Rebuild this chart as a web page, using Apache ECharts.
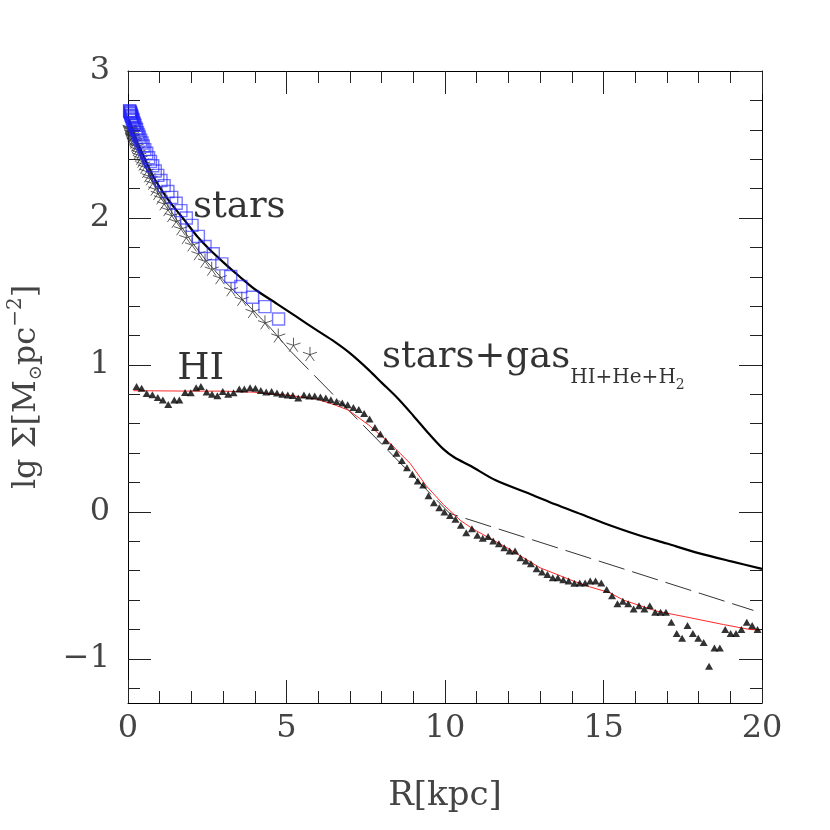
<!DOCTYPE html>
<html>
<head>
<meta charset="utf-8">
<script src="https://cdn.jsdelivr.net/npm/echarts@6/dist/echarts.min.js"></script>
<style>
  html, body { margin: 0; padding: 0; background: #fff; }
  #main { width: 830px; height: 830px; }
</style>
</head>
<body>
<div id="main"></div>
<script>
// stellar surface density, asterisks
var starsX = [0.05, 0.06, 0.07, 0.08, 0.09, 0.10, 0.11, 0.12, 0.13, 0.15, 0.16, 0.18, 0.20, 0.22, 0.25, 0.27, 0.30, 0.33, 0.36, 0.40, 0.44, 0.48, 0.53, 0.59, 0.65, 0.71, 0.78, 0.86, 0.94, 1.04, 1.14, 1.26, 1.38, 1.52, 1.67, 1.84, 2.02, 2.22, 2.43, 2.64, 2.90, 3.25, 3.59, 3.93, 4.32, 4.74, 5.22, 5.74];
var starsY = [2.62, 2.615, 2.61, 2.605, 2.60, 2.59, 2.585, 2.58, 2.57, 2.56, 2.555, 2.54, 2.53, 2.52, 2.50, 2.49, 2.47, 2.45, 2.43, 2.41, 2.39, 2.37, 2.35, 2.32, 2.29, 2.27, 2.24, 2.20, 2.17, 2.14, 2.10, 2.06, 2.02, 1.98, 1.93, 1.87, 1.82, 1.76, 1.71, 1.655, 1.597, 1.515, 1.45, 1.367, 1.29, 1.20, 1.138, 1.075];

// second stellar profile, blue squares
var boxX = [0.05, 0.06, 0.07, 0.08, 0.09, 0.10, 0.11, 0.12, 0.13, 0.15, 0.16, 0.18, 0.20, 0.22, 0.25, 0.27, 0.30, 0.33, 0.36, 0.40, 0.44, 0.48, 0.53, 0.59, 0.65, 0.71, 0.78, 0.86, 0.94, 1.04, 1.14, 1.26, 1.38, 1.52, 1.67, 1.84, 2.02, 2.22, 2.43, 2.69, 2.96, 3.24, 3.56, 3.93, 4.32, 4.75];
var boxY = [2.73, 2.725, 2.72, 2.715, 2.71, 2.70, 2.695, 2.69, 2.68, 2.67, 2.665, 2.65, 2.64, 2.63, 2.61, 2.60, 2.58, 2.565, 2.55, 2.53, 2.51, 2.49, 2.465, 2.44, 2.41, 2.385, 2.355, 2.32, 2.29, 2.255, 2.22, 2.18, 2.14, 2.10, 2.05, 2.00, 1.95, 1.875, 1.806, 1.757, 1.688, 1.602, 1.534, 1.461, 1.397, 1.313];

// HI observed, triangles
var hiX = [0.27, 0.43, 0.59, 0.77, 0.94, 1.10, 1.27, 1.46, 1.62, 1.80, 1.98, 2.15, 2.30, 2.48, 2.65, 2.82, 2.99, 3.16, 3.33, 3.51, 3.67, 3.85, 4.02, 4.19, 4.36, 4.53, 4.70, 4.87, 5.04, 5.20, 5.37, 5.55, 5.72, 5.89, 6.07, 6.24, 6.40, 6.58, 6.76, 6.93, 7.11, 7.28, 7.45, 7.62, 7.79, 7.96, 8.13, 8.30, 8.47, 8.64, 8.80, 8.97, 9.14, 9.31, 9.48, 9.65, 9.82, 9.98, 10.16, 10.33, 10.50, 10.67, 10.85, 11.02, 11.19, 11.36, 11.52, 11.70, 11.87, 12.04, 12.21, 12.38, 12.55, 12.71, 12.89, 13.06, 13.23, 13.40, 13.56, 13.73, 13.90, 14.08, 14.25, 14.42, 14.58, 14.75, 14.93, 15.10, 15.27, 15.44, 15.61, 15.78, 15.95, 16.12, 16.29, 16.46, 16.63, 16.80, 16.97, 17.14, 17.31, 17.48, 17.65, 17.82, 17.99, 18.16, 18.33, 18.50, 18.67, 18.84, 19.01, 19.18, 19.35, 19.52, 19.69, 19.86];
var hiY = [0.854, 0.841, 0.806, 0.798, 0.779, 0.761, 0.731, 0.761, 0.761, 0.813, 0.811, 0.845, 0.854, 0.816, 0.800, 0.791, 0.820, 0.800, 0.811, 0.836, 0.836, 0.845, 0.841, 0.827, 0.816, 0.820, 0.809, 0.800, 0.796, 0.793, 0.775, 0.796, 0.789, 0.789, 0.782, 0.775, 0.763, 0.752, 0.741, 0.729, 0.711, 0.697, 0.670, 0.632, 0.575, 0.530, 0.484, 0.445, 0.400, 0.350, 0.300, 0.257, 0.211, 0.184, 0.110, 0.062, 0.029, 0.000, -0.024, -0.050, -0.091, -0.141, -0.114, -0.159, -0.179, -0.168, -0.198, -0.216, -0.243, -0.266, -0.266, -0.311, -0.334, -0.352, -0.386, -0.409, -0.425, -0.448, -0.448, -0.461, -0.470, -0.486, -0.484, -0.484, -0.470, -0.470, -0.484, -0.527, -0.570, -0.625, -0.607, -0.625, -0.661, -0.639, -0.661, -0.639, -0.682, -0.682, -0.682, -0.750, -0.827, -0.859, -0.772, -0.827, -0.859, -0.888, -1.050, -0.925, -0.925, -0.800, -0.827, -0.827, -0.800, -0.750, -0.772, -0.800];

// HI model, red line
var hiFitX = [0.17, 2.0, 3.0, 3.95, 5.0, 5.95, 6.5, 6.95, 7.6, 8.3, 8.9, 9.4, 9.95, 10.2, 10.5, 10.9, 11.95, 13.0, 14.05, 14.57, 15.2, 15.63, 16.68, 17.73, 18.78, 19.62, 19.95];
var hiFitY = [0.825, 0.822, 0.822, 0.815, 0.795, 0.768, 0.73, 0.693, 0.59, 0.46, 0.33, 0.18, 0.05, 0.0, -0.06, -0.118, -0.243, -0.38, -0.47, -0.51, -0.55, -0.60, -0.675, -0.72, -0.766, -0.80, -0.804];

// stellar model: inner solid part, outer dashed part
var starFitX = [0, 0.1, 0.2, 0.35, 0.5, 0.75, 1.0, 1.5, 2.0, 2.5, 3.0, 3.5, 4.0, 4.5, 5.1];
var starFitY = [2.63, 2.58, 2.53, 2.45, 2.38, 2.27, 2.17, 2.00, 1.84, 1.70, 1.58, 1.47, 1.36, 1.25, 1.10];
var diskX = [5.1, 10.15, 19.73];
var diskY = [1.10, -0.01, -0.67];

// stars + gas total, thick line
var totalX = [0.03, 0.1, 0.2, 0.3, 0.45, 0.6, 0.8, 1.0, 1.25, 1.5, 1.8, 2.2, 2.6, 3.0, 3.5, 4.0, 4.7, 5.3, 6.0, 6.5, 7.0, 7.6, 8.0, 8.5, 9.0, 9.5, 9.95, 10.3, 10.8, 11.6, 12.7, 13.5, 14.3, 15.0, 16.0, 17.0, 18.0, 19.0, 20.0];
var totalY = [2.67, 2.63, 2.57, 2.51, 2.44, 2.37, 2.28, 2.21, 2.13, 2.06, 1.98, 1.87, 1.78, 1.70, 1.605, 1.515, 1.416, 1.33, 1.23, 1.16, 1.08, 0.965, 0.88, 0.775, 0.655, 0.53, 0.427, 0.37, 0.314, 0.215, 0.121, 0.05, -0.016, -0.075, -0.15, -0.215, -0.28, -0.335, -0.387];

var yMajor = [-1, 0, 1, 2, 3];
var yMinor = [-1.2, -0.8, -0.6, -0.4, -0.2, 0.2, 0.4, 0.6, 0.8, 1.2, 1.4, 1.6, 1.8, 2.2, 2.4, 2.6, 2.8];

function pairs(xs, ys) {
  return xs.map(function (x, i) { return [x, ys[i]]; });
}

var FONT = "DejaVu Serif";
var asterisk = "path://M0,0L0,-1M0,0L0.95,-0.31M0,0L0.59,0.81M0,0L-0.59,0.81M0,0L-0.95,-0.31";

var chart = echarts.init(document.getElementById("main"));

function yAx(pos, ticks, len, labels, line) {
  return {
    type: "value", position: pos, min: -1.3, max: 3,
    axisLine: { show: line, onZero: false, lineStyle: { color: "#000", width: 1 } },
    axisTick: { inside: true, length: len, customValues: ticks, lineStyle: { color: "#222" } },
    axisLabel: labels ? {
      show: true, customValues: labels, fontFamily: FONT, fontSize: 32, color: "#444", margin: 18,
      formatter: function (v) { return v < 0 ? "\u2212" + Math.abs(v) : String(v); }
    } : { show: false },
    splitLine: { show: false }
  };
}

function xAx(pos, labels) {
  return {
    type: "value", min: 0, max: 20, interval: 5, position: pos,
    axisLine: { onZero: false, lineStyle: { color: "#000", width: 1 } },
    axisTick: { inside: true, length: 23, lineStyle: { color: "#222" } },
    minorTick: { show: true, splitNumber: 5, length: 12, lineStyle: { color: "#222" } },
    axisLabel: labels ? { fontFamily: FONT, fontSize: 32, color: "#444", margin: 10 } : { show: false },
    splitLine: { show: false }
  };
}

var option = {
  animation: false,
  grid: { left: 128, top: 71, width: 634, height: 632, containLabel: false, outerBoundsMode: "none" },
  xAxis: [
    Object.assign(xAx("bottom", true), {
      name: "R[kpc]", nameLocation: "middle", nameGap: 76,
      nameTextStyle: { fontFamily: FONT, fontSize: 34, color: "#444" }
    }),
    xAx("top", false)
  ],
  yAxis: [
    Object.assign(yAx("left", yMajor, 23, yMajor, true), {
      name: "{n|lg \u03a3[M}{o|\u2299}{n|pc}{e|\u22122}{n|]}",
      nameLocation: "middle", nameGap: 80, nameRotate: 90,
      nameTextStyle: {
        rich: {
          n: { fontFamily: FONT, fontSize: 32, color: "#444" },
          o: { fontFamily: FONT, fontSize: 18, color: "#444", padding: [18, 0, 0, 0] },
          e: { fontFamily: FONT, fontSize: 20, color: "#444", padding: [0, 0, 22, 0] }
        }
      }
    }),
    yAx("right", yMajor, 23, null, true),
    yAx("left", yMinor, 12, null, false),
    yAx("right", yMinor, 12, null, false)
  ],
  series: [
    {
      type: "line", data: pairs(starFitX, starFitY), showSymbol: false,
      lineStyle: { color: "#444", width: 1 }, z: 2
    },
    {
      type: "line", data: pairs(diskX, diskY), showSymbol: false,
      lineStyle: { color: "#333", width: 1, type: [27, 8] }, z: 2
    },
    {
      type: "line", data: pairs(hiFitX, hiFitY), showSymbol: false,
      lineStyle: { color: "#ff2a2a", width: 1 }, z: 2
    },
    {
      type: "line", data: pairs(totalX, totalY), showSymbol: false, smooth: 0.3,
      lineStyle: { color: "#000", width: 2.2 }, z: 3
    },
    {
      type: "scatter", data: pairs(starsX, starsY), symbol: asterisk, symbolSize: 14,
      itemStyle: { color: "rgba(0,0,0,0)", borderColor: "#333", borderWidth: 1 }, z: 4
    },
    {
      type: "scatter", data: pairs(boxX, boxY), symbol: "rect", symbolSize: 12,
      itemStyle: { color: "rgba(0,0,0,0)", borderColor: "rgba(30,30,255,0.75)", borderWidth: 1.4 }, z: 5
    },
    {
      type: "scatter", data: pairs(hiX, hiY), symbol: "triangle", symbolSize: [8, 7],
      itemStyle: { color: "#000" }, z: 6
    },
    {
      type: "scatter", silent: true, symbolSize: 0, z: 10,
      data: [
        { value: [2.05, 2.07], name: "stars" },
        { value: [1.55, 0.97], name: "HI" },
        { value: [8.01, 1.05], name: "total" }
      ],
      label: {
        show: true, position: "right", distance: 0,
        formatter: function (p) {
          if (p.name === "total") return "{m|stars+gas}{s|HI+He+H}{t|2}";
          return "{m|" + p.name + "}";
        },
        rich: {
          m: { fontFamily: FONT, fontSize: 37, color: "#000" },
          s: { fontFamily: FONT, fontSize: 20, color: "#000", padding: [40, 0, 0, 0] },
          t: { fontFamily: FONT, fontSize: 14, color: "#000", padding: [56, 0, 0, 0] }
        }
      }
    }
  ]
};

chart.setOption(option);
</script>
</body>
</html>
